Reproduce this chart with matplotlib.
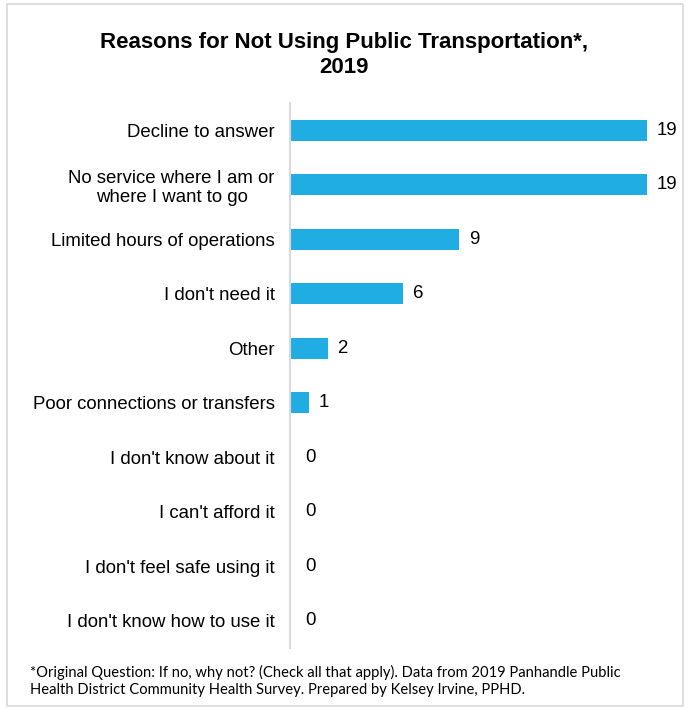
import matplotlib.pyplot as plt
from matplotlib.patches import Rectangle

# data
reasons = ["Decline to answer",
           "No service where I am or\nwhere I want to go",
           "Limited hours of operations",
           "I don't need it",
           "Other",
           "Poor connections or transfers",
           "I don't know about it",
           "I can't afford it",
           "I don't feel safe using it",
           "I don't know how to use it"]
counts = [19, 19, 9, 6, 2, 1, 0, 0, 0, 0]

bar_color = "#1fade4"

plt.rcParams["font.family"] = ["Liberation Sans", "DejaVu Sans"]

W, H = 687, 708
fig = plt.figure(figsize=(W / 100, H / 100), dpi=100)

# axes placed in pixel terms
left, top, bottom = 290, 103, 648
ax = fig.add_axes([left / W, 1 - bottom / H, 376 / W, (bottom - top) / H])

y = list(range(len(reasons)))
ax.barh(y, counts, height=0.39, color=bar_color)
ax.set_xlim(0, 20)
ax.set_ylim(len(reasons) - 0.5, -0.5)

ax.set_yticks(y)
ax.set_yticklabels(reasons, fontsize=13.4, multialignment="center")
ax.tick_params(axis="y", length=0, pad=11)
ax.set_xticks([])

for s in ["top", "right", "bottom"]:
    ax.spines[s].set_visible(False)
ax.spines["left"].set_color("#d9d9d9")
ax.spines["left"].set_linewidth(1.5)

for yi, c in zip(y, counts):
    ax.annotate(str(c), (c, yi), xytext=(7 if c > 0 else 11, 0),
                textcoords="offset points", va="center", ha="left",
                fontsize=13.4, annotation_clip=False)

fig.text(0.5, 1 - 55 / H, "Reasons for Not Using Public Transportation*,\n2019",
         ha="center", va="center", fontsize=16, fontweight="bold",
         linespacing=1.25)

fig.text(30 / W, 1 - 681 / H,
         "*Original Question: If no, why not? (Check all that apply). Data from 2019 Panhandle Public\n"
         "Health District Community Health Survey. Prepared by Kelsey Irvine, PPHD.",
         ha="left", va="center", fontsize=10.6, family=["Lato", "DejaVu Sans"],
         linespacing=1.2)

# light border round the chart area
fig.patches.append(Rectangle((7 / W, 2 / H), 676 / W, 702 / H,
                             transform=fig.transFigure, fill=False,
                             edgecolor="#d9d9d9", linewidth=1.2))

fig.savefig("out.png", dpi=100)
